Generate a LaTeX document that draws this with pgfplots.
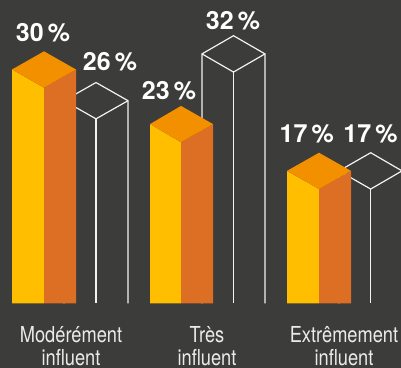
\documentclass[border=0pt]{standalone}
\usepackage{pgfplots}
\usepackage{graphicx}
\usepackage{fontspec}
\pgfplotsset{compat=1.18}
\setmainfont{TeX Gyre Heros}
\definecolor{bg}{HTML}{3C3C3B}
\definecolor{barfront}{HTML}{FFBE00}
\definecolor{barside}{HTML}{DD6F25}
\definecolor{bartop}{HTML}{F39000}
\definecolor{outline}{HTML}{F2F2F2}

% Wireframe column: x left, mid, right; value, top back, top front
\newcommand{\wirebar}[6]{%
  \addplot[outline,line width=1.2pt,no marks] coordinates {(#1,0) (#1,#4) (#2,#5) (#3,#4) (#3,0)};
  \addplot[outline,line width=1.2pt,no marks] coordinates {(#1,#4) (#2,#6) (#3,#4)};
  \addplot[outline,line width=1.2pt,no marks] coordinates {(#2,#6) (#2,0)};
}
% Solid column: x left, mid, right; value, top back, top front
\newcommand{\solidbar}[6]{%
  \addplot[fill=barfront,draw=none,no marks] coordinates {(#1,0) (#1,#4) (#2,#6) (#2,0)} --cycle;
  \addplot[fill=barside,draw=none,no marks] coordinates {(#2,0) (#2,#6) (#3,#4) (#3,0)} --cycle;
  \addplot[fill=bartop,draw=none,no marks] coordinates {(#1,#4) (#2,#5) (#3,#4) (#2,#6)} --cycle;
}
\newcommand{\valuelabel}[3]{%
  \node[anchor=base,text=white,inner sep=0pt,font=\fontsize{25}{29}\selectfont\bfseries] at (axis cs:#1,#2) {#3\,\%};
}
\newcommand{\catlabel}[3]{%
  \node[anchor=base,text=white!92!black,inner sep=0pt,font=\fontsize{22}{26}\selectfont] at (axis cs:#1,#2) {\scalebox{0.83}[1]{#3}};
}

\begin{document}
\begin{tikzpicture}
\begin{axis}[
  scale only axis,
  width=401pt,height=368pt,
  xmin=0,xmax=401,
  ymin=-8.27,ymax=38.91,
  ticks=none,
  axis line style={draw=none},
  axis background/.style={fill=bg},
]
% Outlined columns sit behind the solid ones
\wirebar{64}{96}{128}{26}{28.33}{23.67}
\wirebar{202}{233.5}{265}{32}{34.33}{29.67}
\wirebar{339}{370.7}{402}{17}{19.33}{14.67}
% Solid columns
\solidbar{12}{44}{76}{30}{32.33}{27.67}
\solidbar{150}{181}{213}{23}{25.33}{20.67}
\solidbar{287}{319}{351}{17}{19.33}{14.67}
% Value labels
\valuelabel{43}{33.65}{30}
\valuelabel{110}{29.81}{26}
\valuelabel{169}{26.09}{23}
\valuelabel{233}{35.19}{32}
\valuelabel{306.7}{20.58}{17}
\valuelabel{370.5}{20.58}{17}
% Category names
\catlabel{71}{-4.94}{Modérément}
\catlabel{71}{-7.98}{influent}
\catlabel{207}{-4.94}{Très}
\catlabel{207}{-7.98}{influent}
\catlabel{344}{-4.94}{Extrêmement}
\catlabel{344}{-7.98}{influent}
\end{axis}
\end{tikzpicture}
\end{document}
